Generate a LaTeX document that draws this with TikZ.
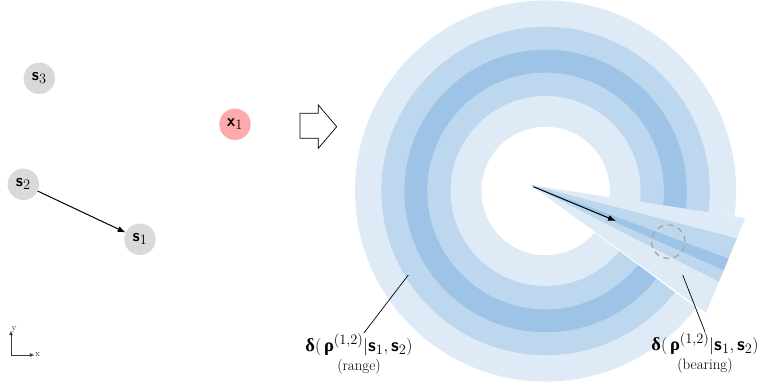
\documentclass[tikz,border=0pt]{standalone}
\usepackage{amsmath,amssymb}
\usepackage{fontspec}
\newfontfamily\grkfont{Liberation Serif}
\usetikzlibrary{arrows.meta}
\DeclareMathSizes{17}{17}{14}{11}
\DeclareMathSizes{18.5}{18.5}{14.5}{11}
\definecolor{bL}{RGB}{222,235,247}
\definecolor{bM}{RGB}{189,215,238}
\definecolor{bD}{RGB}{157,195,230}
\definecolor{sgray}{RGB}{217,217,217}
\definecolor{xpink}{RGB}{255,170,170}
\definecolor{dgray}{RGB}{170,165,160}
\definecolor{axgray}{RGB}{60,60,60}
\newcommand{\sv}[1]{\textsf{\bfseries #1}}
\newcommand{\gk}[1]{\text{\grkfont\bfseries #1}}
\newcommand{\mylbl}{$\gk{δ}(\,\gk{ρ}^{(1,2)}|\sv{s}_1,\sv{s}_2)$}
\begin{document}
\begin{tikzpicture}[x=1pt,y=1pt,
  sensor/.style={circle,fill=sgray,minimum size=31.4pt,inner sep=0pt,font=\fontsize{17}{19}\selectfont},
  target/.style={sensor,fill=xpink},
  lbl/.style={align=center,font=\fontsize{15}{19}\selectfont,inner sep=1pt},
  conn/.style={line width=1pt,-{Latex[length=8pt,width=6pt]}},
  leader/.style={line width=0.7pt},
  axis/.style={line width=0.7pt,draw=axgray,-{Latex[length=4.5pt,width=4pt]}},
  axlbl/.style={font=\fontsize{9}{9}\selectfont,text=axgray,inner sep=0.5pt}]
\useasboundingbox (0,0) rectangle (763,387);

% range rings
\coordinate (rc) at (545.6,196);
\fill[bL] (rc) circle (190.6);
\fill[bM] (rc) circle (164.2);
\fill[bD] (rc) circle (141.2);
\fill[bM] (rc) circle (118.3);
\fill[bL] (rc) circle (95);
\fill[white] (rc) circle (64.2);

% bearing wedge
\coordinate (apex) at (530.7,202);
\begin{scope}[shift={(apex)}]
  \fill[white] (0,0) -- (-8.8:300) -- (-36.6:300) -- cycle;
  \fill[bL] (0,0) -- (-8.8:217) -- (-36.1:217) -- cycle;
  \clip (0,0) -- (-8.8:217) -- (-36.1:217) -- cycle;
  \fill[bM] (0,0) -- (-14.5:300) -- (-27.2:300) -- cycle;
  \fill[bD] (0,0) -- (-20.4:300) -- (-23.8:300) -- cycle;
\end{scope}

\coordinate (rs) at (533.3,200.3);
\coordinate (re) at (616,166);
\draw[conn] (rs) -- (re);

\node[circle,draw=dgray,line width=1.3pt,dash pattern=on 6pt off 4.5pt,minimum size=33.4pt,inner sep=0pt] (obs) at (668.3,145.3) {};

% sensors and target
\node[sensor] (s3) at (39.3,308.7) {$\sv{s}_3$};
\node[sensor] (s2) at (23.3,202.7) {$\sv{s}_2$};
\node[sensor] (s1) at (140,147.7) {$\sv{s}_1$};
\node[target] (x1) at (235,262.7) {$\sv{x}_1$};
\draw[conn] (s2) -- (s1);

% block arrow
\draw[line width=0.7pt] (300,273.7) -- (318.3,273.7) -- (318.3,282) -- (336.7,260.3) -- (318.3,238.7) -- (318.3,248.7) -- (300,248.7) -- cycle;

% labels
\node[lbl] (rl) at (359,33) {{\fontsize{18.5}{19}\selectfont\mylbl}\\(range)};
\node[lbl] (bl) at (705,34) {{\fontsize{18.5}{19}\selectfont\mylbl}\\(bearing)};
\coordinate (rp) at (408.3,112);
\coordinate (bp) at (682.7,112);
\draw[leader] (rp) -- ([xshift=5pt]rl.north);
\draw[leader] (bp) -- (bl.north);

% axes
\coordinate (o) at (11,32);
\coordinate (ax) at (34.3,32);
\coordinate (ay) at (11,56.3);
\draw[axis] (o) -- (ax);
\draw[axis] (o) -- (ay);
\node[axlbl,right] (axl) at (ax) {x};
\node[axlbl,right] (ayl) at ([yshift=1pt]ay) {y};
\end{tikzpicture}
\end{document}
